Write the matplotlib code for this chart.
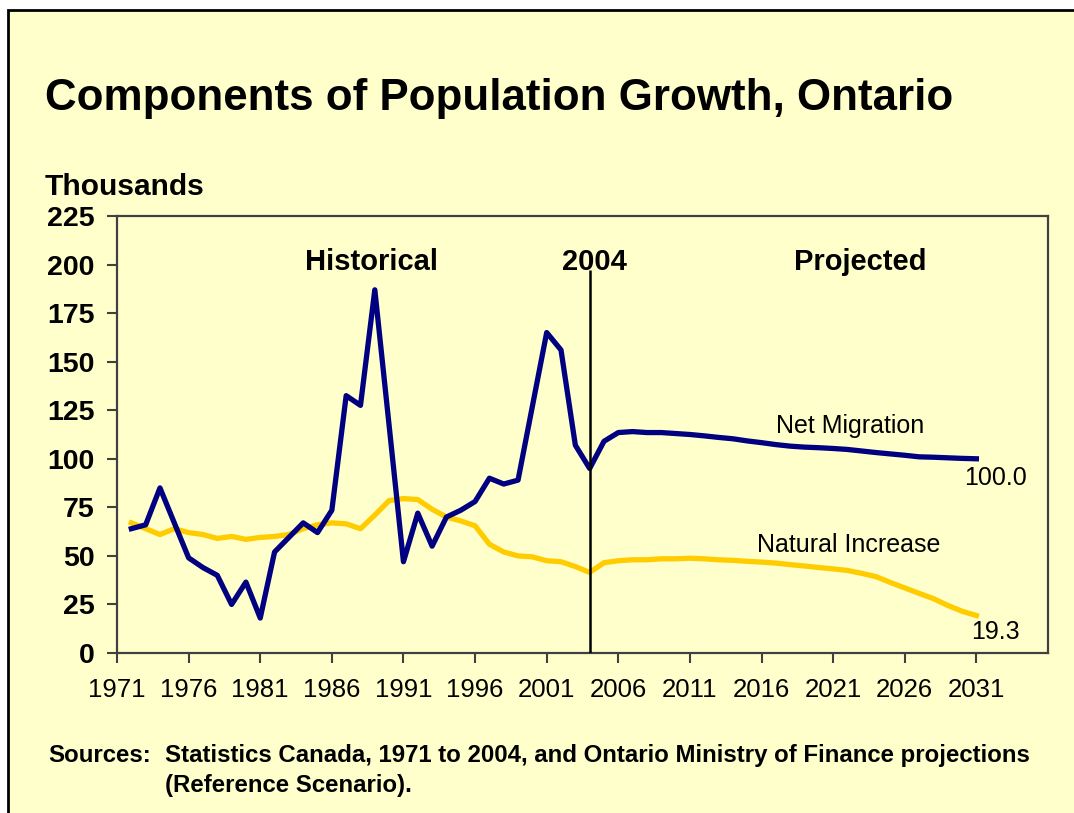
import matplotlib
matplotlib.use("Agg")
import matplotlib.pyplot as plt
from matplotlib.patches import Rectangle

# Year labels refer to the end of each July-June period
years = list(range(1972, 2032))

net_migration = [
    64, 66, 85, 67, 49, 44, 40, 25, 36.5, 18,          # 1972-1981
    52, 59.5, 67, 62, 73.5, 132.5, 127.5, 187, 117, 47,  # 1982-1991
    72, 55, 70, 73.5, 78, 90, 87, 89, 127, 165,         # 1992-2001
    156, 107, 95,                                        # 2002-2004
    109, 113.5, 114, 113.5, 113.5, 113, 112.5, 111.8, 111, 110.3,   # 2005-2014
    109.2, 108.3, 107.3, 106.5, 106, 105.7, 105.3, 104.8, 104, 103.2,  # 2015-2024
    102.5, 101.8, 101, 100.8, 100.5, 100.2, 100.0,      # 2025-2031
]

natural_increase = [
    67, 64, 61, 64, 62, 61, 59, 60, 58.5, 59.5,         # 1972-1981
    60, 61, 64, 66, 67, 66.5, 64, 71, 78.5, 79.5,       # 1982-1991
    79, 74, 70, 68, 65.5, 56, 52, 50, 49.5, 47.5,       # 1992-2001
    47, 44.5, 41.5,                                      # 2002-2004
    46.5, 47.5, 48, 48, 48.5, 48.5, 48.8, 48.5, 48, 47.7,  # 2005-2014
    47.2, 46.8, 46.3, 45.5, 44.8, 44, 43.3, 42.5, 41, 39.3,  # 2015-2024
    36.3, 33.5, 30.7, 28, 24.5, 21.5, 19.3,             # 2025-2031
]

x_ticks = list(range(1971, 2032, 5))
y_ticks = list(range(0, 226, 25))

BG = "#FFFFCC"
NAVY = "#000080"
GOLD = "#FFCC00"
FONT = ["Liberation Sans", "DejaVu Sans"]

plt.rcParams["font.family"] = FONT

fig = plt.figure(figsize=(10.74, 8.13), dpi=100, facecolor="white")

# Slide panel with black frame on the top and left
fig.patches.append(Rectangle((8 / 1074, -0.2), 1.5, 0.2 + (813 - 10) / 813,
                             transform=fig.transFigure, facecolor=BG,
                             edgecolor="black", linewidth=2, zorder=-10))

ax = fig.add_axes([117 / 1074, (813 - 653) / 813, (1048 - 117) / 1074, (653 - 216) / 813])
ax.set_zorder(5)
ax.set_facecolor(BG)

ax.plot(years, net_migration, color=NAVY, linewidth=3.8, zorder=3)
ax.plot(years, natural_increase, color=GOLD, linewidth=3.8, zorder=2)

ax.vlines(2004, 0, 197, color="black", linewidth=1.8, zorder=4)

ax.set_xlim(1971, 2036)
ax.set_ylim(0, 225)
ax.set_xticks(x_ticks)
ax.set_xticklabels([str(t) for t in x_ticks], fontsize=18.5)
ax.set_yticks(y_ticks)
ax.set_yticklabels([str(t) for t in y_ticks], fontsize=20.5, fontweight="bold")
ax.tick_params(axis="both", direction="out", length=7, width=1.5, color="#404040")
ax.tick_params(axis="x", pad=11)
ax.tick_params(axis="y", pad=9)
for s in ax.spines.values():
    s.set_color("#404040")
    s.set_linewidth(1.6)

ax.text(1988.8, 201.5, "Historical", ha="center", va="center", fontsize=21, fontweight="bold")
ax.text(2004.3, 201.5, "2004", ha="center", va="center", fontsize=21, fontweight="bold")
ax.text(2022.9, 201.5, "Projected", ha="center", va="center", fontsize=21, fontweight="bold")

ax.text(2022.2, 117, "Net Migration", ha="center", va="center", fontsize=18)
ax.text(2022.1, 55.5, "Natural Increase", ha="center", va="center", fontsize=18)
ax.text(2032.3, 90, f"{net_migration[-1]:.1f}", ha="center", va="center", fontsize=18)
ax.text(2032.3, 11, f"{natural_increase[-1]:.1f}", ha="center", va="center", fontsize=18)

fig.text(45 / 1074, (813 - 110) / 813, "Components of Population Growth, Ontario",
         fontsize=31.6, fontweight="bold", ha="left", va="baseline")
fig.text(45 / 1074, (813 - 195) / 813, "Thousands", fontsize=21.5, fontweight="bold",
         ha="left", va="baseline")

fig.text(48 / 1074, (813 - 762) / 813, "Sources:", fontsize=17.3, fontweight="bold",
         ha="left", va="baseline")
fig.text(165 / 1074, (813 - 762) / 813,
         "Statistics Canada, 1971 to 2004, and Ontario Ministry of Finance projections",
         fontsize=17.3, fontweight="bold", ha="left", va="baseline")
fig.text(165 / 1074, (813 - 792) / 813, "(Reference Scenario).", fontsize=17.3,
         fontweight="bold", ha="left", va="baseline")

fig.savefig("out.png", dpi=100, facecolor=fig.get_facecolor())
